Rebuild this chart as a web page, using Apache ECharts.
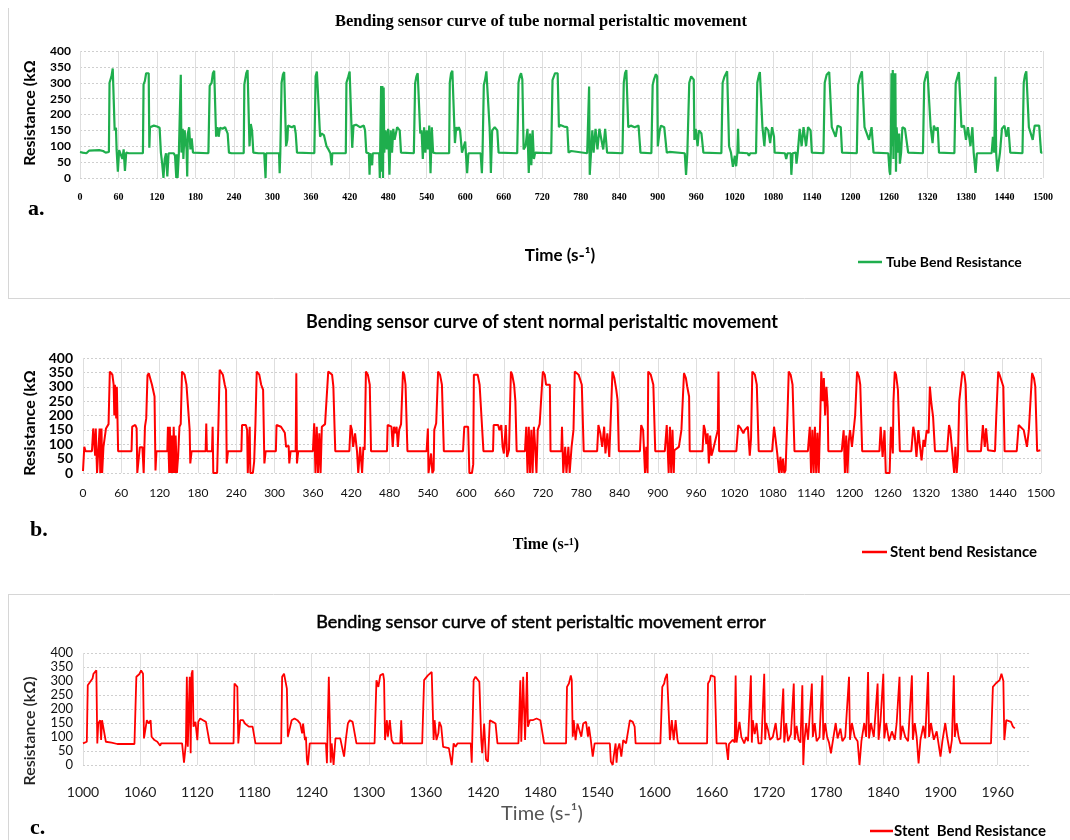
<!DOCTYPE html>
<html><head><meta charset="utf-8">
<script src="https://cdn.jsdelivr.net/npm/echarts@6/dist/echarts.min.js"></script>
<style>html,body{margin:0;padding:0;background:#fff}#c{width:1070px;height:840px}</style>
</head><body><div id="c"></div>
<script>
// ---- Data (time s, resistance kΩ) ----
const tubeData = [
[0,82],[4,80],[10,78],[14,86],[30,88],[36,85],[40,80],[45,82],
[46,300],[49,320],[51,345],[53,340],[54,150],[56,158],[57,90],[59,20],[61,88],[64,85],[66,60],[68,90],[70,22],[72,80],[76,78],
[98,78],[99,295],[101,305],[103,330],[105,335],[107,330],[108,95],[109,160],[115,165],[120,162],[124,158],[126,80],[128,45],[130,0],[132,60],[134,78],[136,5],[138,78],[146,78],[148,70],[150,0],[151,75],[152,0],[154,78],
[156,80],[157,325],[158,80],[160,155],[161,60],[163,150],[165,155],[166,90],[167,5],[168,140],[170,160],[172,90],[174,125],[176,80],[178,78],
[200,78],[202,290],[205,300],[207,330],[209,338],[211,335],[212,130],[214,160],[216,130],[218,158],[222,155],[226,160],[230,140],[232,80],[236,78],
[255,78],[256,295],[259,330],[261,340],[262,338],[264,100],[266,170],[268,150],[270,80],[278,78],[287,78],[289,0],[290,78],[310,78],[311,15],[312,78],
[313,78],[314,300],[316,325],[318,334],[320,330],[321,100],[323,120],[324,165],[330,160],[334,165],[336,140],[338,80],
[365,78],[367,320],[369,335],[371,340],[372,335],[374,130],[376,140],[380,135],[384,100],[387,90],[390,78],[392,40],[393,78],
[414,78],[415,300],[418,320],[420,335],[422,338],[424,95],[426,165],[430,168],[436,160],[442,165],[444,150],[446,80],[450,78],[451,10],[452,78],[455,40],[456,78],
[466,78],[467,0],[468,150],[469,290],[470,20],[471,290],[472,0],[473,285],[474,80],[476,150],[478,90],[480,155],[482,10],[484,150],[486,80],[488,155],[490,120],[494,160],[498,150],[500,80],
[520,78],[522,298],[524,320],[526,330],[528,325],[530,140],[532,150],[534,60],[536,160],[538,80],[540,150],[542,90],[544,165],[546,15],[548,160],[550,80],[554,78],
[575,78],[576,300],[578,330],[580,338],[582,335],[584,110],[586,160],[588,150],[590,160],[592,150],[595,80],[600,115],[601,80],[603,15],[605,78],
[624,78],[626,15],[627,78],[629,293],[631,310],[633,336],[635,330],[638,160],[639,100],[640,16],[642,150],[646,160],[650,150],[652,80],
[681,78],[683,300],[685,320],[687,330],[689,310],[691,90],[694,100],[697,155],[699,16],[701,140],[703,40],[705,150],[707,60],[709,80],
[734,78],[736,308],[740,330],[742,336],[744,330],[746,160],[748,167],[754,162],[759,160],[761,80],[765,85],
[790,78],[792,80],[793,288],[794,10],[796,80],[798,150],[800,80],[803,155],[806,90],[809,155],[812,155],[815,90],[818,155],[821,80],
[845,78],[847,300],[849,330],[851,340],[853,335],[854,160],[858,165],[864,160],[870,165],[873,80],
[890,78],[892,293],[894,310],[897,327],[899,320],[900,100],[903,150],[905,165],[910,160],[913,165],[914,80],[918,82],[921,78],
[942,78],[944,10],[946,78],[949,300],[952,320],[955,324],[956,310],[957,120],[959,155],[962,100],[964,150],[968,140],[970,100],[971,80],
[999,78],[1001,300],[1004,320],[1008,336],[1010,330],[1011,100],[1014,80],[1017,35],[1020,70],[1022,37],[1024,80],[1025,155],[1026,80],
[1040,78],[1042,70],[1044,78],
[1053,78],[1055,300],[1057,320],[1059,334],[1061,330],[1063,160],[1066,100],[1068,160],[1072,150],[1075,110],[1078,160],[1081,130],[1082,80],
[1098,78],[1100,60],[1102,78],[1107,78],[1108,10],[1110,78],[1115,80],[1116,45],[1118,80],[1121,155],[1124,100],[1127,160],[1131,100],[1134,160],[1138,150],[1140,80],
[1158,78],[1160,300],[1163,325],[1167,334],[1169,330],[1171,160],[1174,165],[1177,130],[1180,165],[1185,160],[1187,80],
[1210,78],[1212,293],[1215,320],[1218,336],[1220,330],[1222,160],[1225,165],[1229,120],[1233,160],[1236,80],
[1259,78],[1261,20],[1262,10],[1263,78],[1264,330],[1265,100],[1266,340],[1267,60],[1268,330],[1269,150],[1270,330],[1271,20],[1272,160],[1274,80],[1276,140],[1277,45],[1279,80],[1281,160],[1285,155],[1288,155],[1290,80],
[1313,78],[1315,300],[1318,325],[1320,336],[1322,330],[1325,160],[1328,110],[1330,165],[1333,150],[1336,160],[1338,80],
[1362,78],[1364,298],[1367,320],[1369,334],[1371,330],[1373,160],[1377,165],[1380,120],[1383,160],[1387,100],[1390,160],[1392,80],[1394,78],[1395,16],[1397,78],
[1420,78],[1422,130],[1424,80],[1426,319],[1427,80],[1429,20],[1431,25],[1433,80],[1436,155],[1440,165],[1443,130],[1446,160],[1449,80],
[1468,78],[1470,300],[1472,325],[1474,336],[1476,330],[1478,160],[1481,165],[1484,120],[1487,165],[1490,160],[1494,165],[1497,80],[1499,80]
];

const stentData = [
[0,7],[2,91],[4,76],[14,76],[16,155],[18,150],[19,60],[20,155],[22,0],[24,0],[26,155],[27,0],[29,155],[30,0],[32,90],[34,85],[36,155],[38,160],[40,170],[42,353],[44,359],[46,342],[48,307],[49,200],[50,307],[52,190],[53,300],[55,76],
[76,76],[77,161],[82,167],[84,155],[85,0],[87,0],[89,90],[93,90],[95,0],[97,161],[99,190],[101,340],[103,347],[105,342],[108,307],[111,307],[112,266],[113.5,9],[115,76],
[132,76],[133,161],[135,0],[136,161],[138,0],[139,130],[141,0],[142,161],[144,0],[145,130],[147,0],[149,60],[151,161],[153,170],[155,353],[157,353],[159,342],[162,307],[165,307],[167,150],[168,33],[170,76],
[192,76],[193,172],[194,76],[202,76],[203,161],[204,0],[210,0],[212,170],[214,359],[216,353],[219,342],[222,307],[224,289],[225,33],[227,76],
[248,76],[249,167],[255,167],[257,150],[258,0],[260,0],[261,161],[262,0],[266,0],[268,40],[270,170],[272,353],[274,353],[276,342],[279,307],[282,289],[284,33],[286,76],
[302,76],[303,167],[310,161],[316,140],[318,91],[322,95],[323,33],[325,76],[333,76],[334,347],[335,33],[337,76],
[360,76],[362,173],[364,0],[366,161],[368,0],[370,138],[372,0],[374,161],[376,161],[379,170],[384,353],[387,353],[390,342],[392,301],[394,150],[395,76],
[417,76],[419,167],[421,150],[423,91],[426,138],[429,76],[431,0],[434,91],[437,0],[439,91],[441,80],[443,353],[446,342],[449,307],[451,76],
[476,76],[477,167],[483,161],[485,91],[487,161],[489,138],[491,161],[493,91],[495,150],[498,170],[501,353],[503,342],[505,307],[508,76],
[538,76],[540,155],[541,0],[543,0],[545,68],[547,0],[549,9],[550,150],[553,173],[556,353],[559,342],[562,307],[565,76],
[595,76],[597,161],[603,161],[605,0],[609,0],[611,30],[612,342],[618,342],[621,307],[624,307],[627,76],
[642,76],[643,167],[650,167],[652,149],[655,167],[657,91],[659,68],[662,167],[664,56],[667,80],[670,353],[672,342],[675,307],[677,250],[679,76],
[692,76],[694,161],[696,0],[698,161],[700,0],[702,150],[704,0],[706,161],[708,91],[710,0],[712,150],[715,170],[720,353],[723,342],[725,307],[731,307],[732,76],
[749,76],[750,161],[752,0],[755,91],[757,0],[760,91],[762,0],[765,91],[768,150],[770,353],[776,342],[781,307],[784,76],
[805,76],[807,167],[810,138],[813,91],[816,161],[818,68],[821,138],[824,56],[826,170],[829,353],[832,330],[835,289],[837,254],[839,76],
[872,76],[874,167],[877,149],[880,0],[882,91],[884,0],[885,353],[889,342],[893,307],[896,76],
[911,76],[914,167],[917,0],[919,161],[921,0],[923,150],[925,0],[926,79],[933,91],[937,150],[941,347],[944,330],[946,301],[949,266],[950,76],
[970,76],[972,167],[974,149],[976,100],[978,138],[980,33],[982,130],[984,60],[986,76],[994,150],[995,353],[996,76],
[1023,76],[1026,167],[1030,155],[1034,138],[1036,149],[1041,161],[1044,60],[1046,120],[1048,353],[1052,342],[1055,307],[1058,76],
[1079,76],[1082,161],[1084,126],[1087,68],[1090,0],[1092,56],[1094,0],[1096,50],[1098,0],[1100,9],[1103,200],[1105,353],[1108,342],[1111,307],[1114,76],
[1135,76],[1138,161],[1140,0],[1142,150],[1144,0],[1146,161],[1148,0],[1150,140],[1152,0],[1154,161],[1156,353],[1158,250],[1160,330],[1162,200],[1164,300],[1166,230],[1167,76],
[1188,76],[1191,149],[1193,0],[1195,130],[1197,0],[1199,110],[1201,149],[1204,91],[1207,91],[1209,200],[1212,353],[1215,335],[1217,307],[1220,76],
[1247,76],[1249,161],[1252,56],[1255,149],[1257,0],[1263,0],[1265,161],[1268,68],[1269,250],[1271,353],[1273,342],[1276,289],[1279,76],
[1297,76],[1300,161],[1302,138],[1305,56],[1308,149],[1310,103],[1313,44],[1316,115],[1318,91],[1321,149],[1324,138],[1326,301],[1328,250],[1329,231],[1331,196],[1334,76],
[1353,76],[1356,167],[1358,149],[1361,149],[1364,0],[1366,91],[1368,0],[1370,60],[1372,250],[1377,353],[1380,342],[1382,307],[1385,76],
[1406,76],[1409,167],[1412,91],[1414,155],[1417,79],[1428,76],[1430,200],[1433,353],[1435,342],[1441,301],[1443,76],
[1462,76],[1465,167],[1467,161],[1473,149],[1475,126],[1478,91],[1481,150],[1486,347],[1489,330],[1491,301],[1494,76],[1499,79]
];

const errorData = [
[1000,77],[1004,83],[1005,285],[1007,291],[1010,309],[1011,326],[1014,338],[1015,77],[1016,148],[1018,160],[1019,89],[1020,160],[1022,160],[1024,83],[1030,80],[1036,75],[1054,75],
[1056,315],[1059,324],[1061,338],[1063,326],[1064,95],[1066,89],[1067,160],[1069,148],[1071,160],[1072,101],[1075,89],[1078,83],[1079,77],[1081,69],[1082,77],[1104,77],
[1106,8],[1108,77],[1109,315],[1110,65],[1112,315],[1113,42],[1114,326],[1115,338],[1116,137],[1118,154],[1120,89],[1121,154],[1123,166],[1126,160],[1129,154],[1131,148],[1133,77],[1158,77],
[1159,291],[1161,297],[1162,279],[1163,77],[1165,160],[1168,160],[1170,148],[1174,137],[1178,137],[1181,77],[1208,77],
[1209,315],[1211,326],[1213,326],[1214,273],[1215,101],[1217,101],[1219,160],[1222,166],[1225,160],[1228,148],[1230,113],[1231,148],[1233,89],[1234,101],[1235,18],[1236,0],[1238,77],[1255,77],
[1256,6],[1258,315],[1260,8],[1261,77],[1263,0],[1265,95],[1270,95],[1272,89],[1274,30],[1276,95],[1278,148],[1280,160],[1283,154],[1285,148],[1287,77],[1306,77],
[1308,303],[1310,279],[1312,320],[1315,326],[1316,303],[1317,89],[1319,160],[1320,101],[1322,160],[1324,89],[1326,77],[1333,77],[1334,160],[1335,77],[1356,77],
[1358,303],[1362,320],[1364,326],[1366,332],[1368,89],[1369,160],[1371,89],[1373,113],[1374,154],[1376,137],[1378,65],[1380,65],[1384,60],[1387,0],[1389,77],[1391,65],[1393,77],[1407,77],
[1408,8],[1410,303],[1412,315],[1414,320],[1416,297],[1418,89],[1419,42],[1421,148],[1423,20],[1425,12],[1427,160],[1430,154],[1433,148],[1435,77],[1457,77],
[1459,303],[1460,83],[1462,315],[1464,89],[1466,332],[1467,137],[1469,160],[1472,160],[1476,166],[1480,160],[1484,77],
[1507,77],[1508,279],[1510,291],[1512,320],[1513,303],[1514,101],[1515,160],[1517,89],[1519,148],[1521,148],[1523,101],[1525,148],[1528,154],[1530,101],[1531,137],[1533,89],[1535,30],[1537,77],[1553,77],
[1554,12],[1556,0],[1557,30],[1559,77],[1560,8],[1561,53],[1563,77],[1565,30],[1567,89],[1570,77],[1574,160],[1576,166],[1577,154],[1579,137],[1580,77],[1606,77],
[1608,279],[1610,291],[1611,309],[1613,326],[1615,326],[1616,89],[1618,160],[1620,89],[1622,160],[1624,89],[1625,77],[1655,77],
[1656,291],[1658,303],[1659,320],[1661,326],[1663,315],[1665,77],[1675,77],
[1677,18],[1678,75],[1682,90],[1684,80],[1685,320],[1686,80],[1689,154],[1691,100],[1694,77],[1696,100],[1698,85],[1701,320],[1702,80],[1703,160],[1705,110],[1707,150],[1709,77],[1712,77],[1715,326],[1716,90],[1717,150],[1719,125],[1721,90],[1724,100],[1727,150],[1729,90],[1732,95],[1735,273],[1736,80],[1738,150],[1740,85],[1743,110],[1746,291],[1747,90],[1749,140],[1751,90],[1753,80],[1755,285],[1756,0],[1757,80],[1759,150],[1761,90],[1765,291],[1766,100],[1768,150],[1770,85],[1773,100],[1776,320],[1777,90],[1779,150],[1781,100],[1783,80],[1785,42],[1787,85],[1790,150],[1792,95],[1795,130],[1797,85],[1800,100],[1804,315],[1805,90],[1807,150],[1810,100],[1813,85],[1815,0],[1817,85],[1820,150],[1822,100],[1824,332],[1825,95],[1827,150],[1830,100],[1834,291],[1835,90],[1837,155],[1840,326],[1841,95],[1843,150],[1846,85],[1849,120],[1852,90],[1854,150],[1857,315],[1858,90],[1860,140],[1863,100],[1866,85],[1870,320],[1871,90],[1873,150],[1875,100],[1877,6],[1879,90],[1882,140],[1884,95],[1887,332],[1888,100],[1890,150],[1893,90],[1896,120],[1900,30],[1902,85],[1905,150],[1907,100],[1910,42],[1912,90],[1914,320],[1915,100],[1917,150],[1919,100],[1921,77],
[1953,77],[1955,279],[1958,291],[1962,303],[1964,326],[1965,332],[1966,300],[1967,89],[1969,160],[1971,166],[1974,154],[1976,137],[1978,131]
];

const errorXTicks = [1000,1060,1120,1180,1240,1300,1360,1420,1480,1540,1600,1660,1720,1780,1840,1900,1960];

const titles = [
  'Bending sensor curve of tube normal peristaltic movement',
  'Bending sensor curve of stent normal peristaltic movement',
  'Bending sensor curve of stent peristaltic movement error'
];
const legendNames = ['Tube Bend Resistance', 'Stent bend Resistance', 'Stent  Bend Resistance'];

// ---- Chart ----
const GREEN = '#1fae4d', RED = '#ff0000';
const chart = echarts.init(document.getElementById('c'), null, {renderer: 'canvas', width: 1070, height: 840});
const plain = v => String(v);

function vSplit(){ return {show: true, lineStyle: {color: '#dedede', width: 1}}; }
function hSplit(){ return {show: true, lineStyle: {color: '#cfcfcf', width: 1, type: [2, 2]}}; }

function txt(text, x, y, font, opts) {
  opts = opts || {};
  const st = {text: text, font: font, fill: opts.fill || '#000',
      textAlign: opts.align || 'center', textVerticalAlign: 'middle',
      align: opts.align || 'center', verticalAlign: 'middle'};
  if (opts.stroke) { st.stroke = opts.stroke; st.lineWidth = opts.strokeWidth || 0.4; }
  return {type: 'text', x: x, y: y, rotation: opts.rotation || 0, silent: true, style: st};
}
function seg(x1, y1, x2, y2, color, w) {
  return {type: 'line', silent: true, shape: {x1: x1, y1: y1, x2: x2, y2: y2}, style: {stroke: color, lineWidth: w}};
}

const option = {
  animation: false,
  backgroundColor: '#ffffff',
  grid: [
    {left: 80, top: 51, width: 963, height: 127},
    {left: 83, top: 358, width: 958, height: 115},
    {left: 83, top: 653, width: 948, height: 112}
  ],
  xAxis: [
    {gridIndex: 0, type: 'value', min: 0, max: 1500, interval: 60,
     axisLine: {show: false}, axisTick: {show: false}, splitLine: vSplit(),
     axisLabel: {formatter: plain, fontFamily: 'Liberation Serif', fontWeight: 'bold', fontSize: 10, color: '#000', margin: 14}},
    {gridIndex: 1, type: 'value', min: 0, max: 1500, interval: 60,
     axisLine: {show: false}, axisTick: {show: false}, splitLine: vSplit(),
     axisLabel: {formatter: plain, fontFamily: 'Lato', fontSize: 12, color: '#111', margin: 14}},
    {gridIndex: 2, type: 'value', min: 1000, max: 1995,
     axisLine: {show: false},
     axisTick: {show: false, customValues: errorXTicks},
     splitLine: vSplit(),
     axisLabel: {customValues: errorXTicks, formatter: plain, fontFamily: 'Lato', fontSize: 14, color: '#222', margin: 20}}
  ],
  yAxis: [
    {gridIndex: 0, type: 'value', min: 0, max: 400, interval: 50,
     axisLine: {show: false}, axisTick: {show: false}, splitLine: hSplit(),
     axisLabel: {fontFamily: 'Lato', fontWeight: 'bold', fontSize: 12, color: '#000', margin: 9}},
    {gridIndex: 1, type: 'value', min: 0, max: 400, interval: 50,
     axisLine: {show: false}, axisTick: {show: false}, splitLine: hSplit(),
     axisLabel: {fontFamily: 'Lato', fontWeight: 'bold', fontSize: 14, color: '#000', margin: 10}},
    {gridIndex: 2, type: 'value', min: 0, max: 400, interval: 50,
     axisLine: {show: false}, axisTick: {show: false}, splitLine: hSplit(),
     axisLabel: {fontFamily: 'Lato', fontSize: 13, color: '#111', margin: 10}}
  ],
  series: [
    {type: 'line', xAxisIndex: 0, yAxisIndex: 0, data: tubeData, showSymbol: false,
     lineStyle: {color: GREEN, width: 2.2}, itemStyle: {color: GREEN}},
    {type: 'line', xAxisIndex: 1, yAxisIndex: 1, data: stentData, showSymbol: false,
     lineStyle: {color: RED, width: 2}, itemStyle: {color: RED}},
    {type: 'line', xAxisIndex: 2, yAxisIndex: 2, data: errorData, showSymbol: false,
     lineStyle: {color: RED, width: 1.8}, itemStyle: {color: RED}}
  ],
  graphic: [
    // panel frames
    seg(8.5, 8, 8.5, 298, '#d6d6d6', 1),
    seg(8, 298.5, 1070, 298.5, '#d6d6d6', 1),
    seg(8, 594.5, 1070, 594.5, '#d6d6d6', 1),
    seg(8.5, 594, 8.5, 840, '#d6d6d6', 1),
    // titles
    txt(titles[0], 541, 22, 'bold 16.5px "Liberation Serif"'),
    txt(titles[1], 542, 322, 'bold 18px Lato'),
    txt(titles[2], 541, 622, '18px Lato', {fill: '#000', stroke: '#000', strokeWidth: 0.5}),
    // y-axis names
    txt('Resistance (kΩ', 30, 113, 'bold 16px Lato', {rotation: Math.PI / 2}),
    txt('Resistance (kΩ', 30, 423, 'bold 16px Lato', {rotation: Math.PI / 2}),
    txt('Resistance (kΩ)', 30, 731, '600 16px Lato', {rotation: Math.PI / 2, fill: '#222'}),
    // x-axis names
    txt('Time (s-¹)', 560, 256, 'bold 17px Lato'),
    txt('Time (s-¹)', 546, 545, 'bold 16px "Liberation Serif"'),
    txt('Time (s-¹)', 542, 814, '20px Lato', {fill: '#555'}),
    // panel letters
    txt('a.', 28, 209, 'bold 22px "Liberation Serif"', {align: 'left'}),
    txt('b.', 30, 530, 'bold 22px "Liberation Serif"', {align: 'left'}),
    txt('c.', 30, 828, 'bold 22px "Liberation Serif"', {align: 'left'}),
    // legends
    seg(858, 262, 882, 262, GREEN, 2.5),
    txt(legendNames[0], 886, 262, 'bold 14px Lato', {align: 'left'}),
    seg(862, 552, 887, 552, RED, 2.5),
    txt(legendNames[1], 890, 552, 'bold 15px Lato', {align: 'left'}),
    seg(870, 831, 893, 831, RED, 2.5),
    txt(legendNames[2], 894, 831, 'bold 15px Lato', {align: 'left'})
  ]
};
chart.setOption(option);
</script>
</body></html>
